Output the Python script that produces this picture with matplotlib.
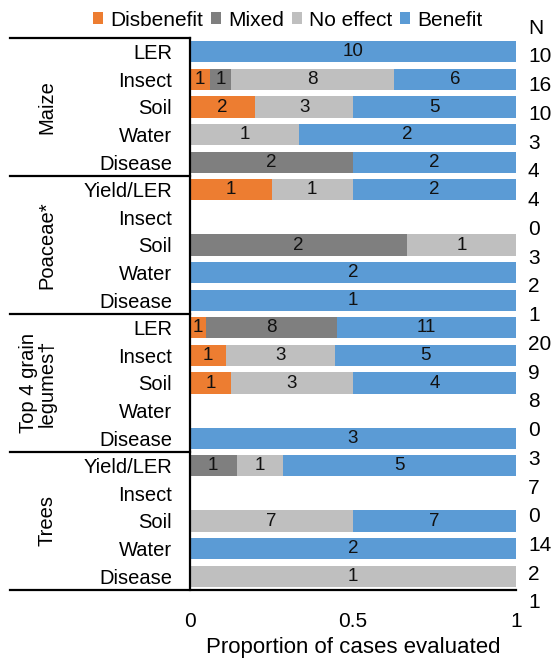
import matplotlib
matplotlib.use("Agg")
import matplotlib.pyplot as plt
from matplotlib.patches import Patch
from matplotlib.transforms import blended_transform_factory
import numpy as np

plt.rcParams['font.family'] = ['Liberation Sans', 'DejaVu Sans']

groups = ["Maize", "Poaceae*", "Top 4 grain\nlegumes\u2020", "Trees"]
categories = ["LER", "Insect", "Soil", "Water", "Disease",
              "Yield/LER", "Insect", "Soil", "Water", "Disease",
              "LER", "Insect", "Soil", "Water", "Disease",
              "Yield/LER", "Insect", "Soil", "Water", "Disease"]
series = ["Disbenefit", "Mixed", "No effect", "Benefit"]
colors = ["#ED7D31", "#7F7F7F", "#BFBFBF", "#5B9BD5"]

disbenefit = [0, 1, 2, 0, 0,  1, 0, 0, 0, 0,  1, 1, 1, 0, 0,  0, 0, 0, 0, 0]
mixed      = [0, 1, 0, 0, 2,  0, 0, 2, 0, 0,  8, 0, 0, 0, 0,  1, 0, 0, 0, 0]
no_effect  = [0, 8, 3, 1, 0,  1, 0, 1, 0, 0,  0, 3, 3, 0, 0,  1, 0, 7, 0, 1]
benefit    = [10, 6, 5, 2, 2, 2, 0, 0, 2, 1,  11, 5, 4, 0, 3, 5, 0, 7, 2, 0]
n_labels   = [10, 16, 10, 3, 4, 4, 0, 3, 2, 1, 20, 9, 8, 0, 3, 7, 0, 14, 2, 1]

W, H = 558, 659
fig = plt.figure(figsize=(W / 100, H / 100), dpi=100)
ax = fig.add_axes([190 / W, 1 - 590 / H, (516 - 190) / W, (590 - 38) / H])

counts = np.array([disbenefit, mixed, no_effect, benefit], dtype=float)
totals = counts.sum(axis=0)
props = np.divide(counts, totals, out=np.zeros_like(counts), where=totals > 0)
y = np.arange(len(categories))
left = np.zeros(len(categories))
for i in range(4):
    ax.barh(y, props[i], left=left, height=0.77, color=colors[i], label=series[i])
    for j in range(len(categories)):
        if counts[i, j] > 0:
            ax.text(left[j] + props[i, j] / 2, y[j], f"{int(counts[i, j])}",
                    ha="center", va="center", fontsize=13.5, color="#111111")
    left += props[i]

ax.set_xlim(0, 1)
ax.set_ylim(19.5, -0.5)
ax.set_yticks(y)
ax.set_yticklabels(categories, fontsize=14.5)
ax.tick_params(axis="y", length=0, pad=13)
ax.set_xticks([0, 0.5, 1])
ax.set_xticklabels(["0", "0.5", "1"], fontsize=15)
ax.tick_params(axis="x", length=0, pad=16)
ax.set_xlabel("Proportion of cases evaluated", fontsize=16, labelpad=4)
for s in ["top", "right", "bottom"]:
    ax.spines[s].set_visible(False)
ax.spines["left"].set_linewidth(1.6)

tr = blended_transform_factory(fig.transFigure, ax.transData)
x0 = 10 / W
x_ax = 190 / W
for yb in [-0.5, 4.5, 9.5, 14.5]:
    fig.add_artist(plt.Line2D([x0, x_ax], [yb, yb], transform=tr, color="black", lw=1.6))
fig.add_artist(plt.Line2D([x0, 516 / W], [19.5, 19.5], transform=tr, color="black", lw=1.6))

group_x = [47, 47, 38, 47]
for g, gx in zip(range(4), group_x):
    ax.text(gx / W, 5 * g + 2, groups[g], transform=tr, rotation=90,
            ha="center", va="center", fontsize=14.5, linespacing=1.0)

# N column
fig.text(528 / W, 1 - 28 / H, "N", fontsize=15, ha="left", va="center")
for k, nv in enumerate(n_labels):
    yy = 57 + k * (603 - 57) / 19
    fig.text(528 / W, 1 - yy / H, str(nv), fontsize=15, ha="left", va="center")

handles = [Patch(facecolor=c, edgecolor="none") for c in colors]
fig.legend(handles, series, loc="center", bbox_to_anchor=(288 / W, 1 - 20 / H),
           ncol=4, frameon=False, fontsize=15, handlelength=0.5, handleheight=0.5,
           handletextpad=0.35, columnspacing=0.35, borderaxespad=0, borderpad=0)

fig.savefig("out.png", dpi=100)
